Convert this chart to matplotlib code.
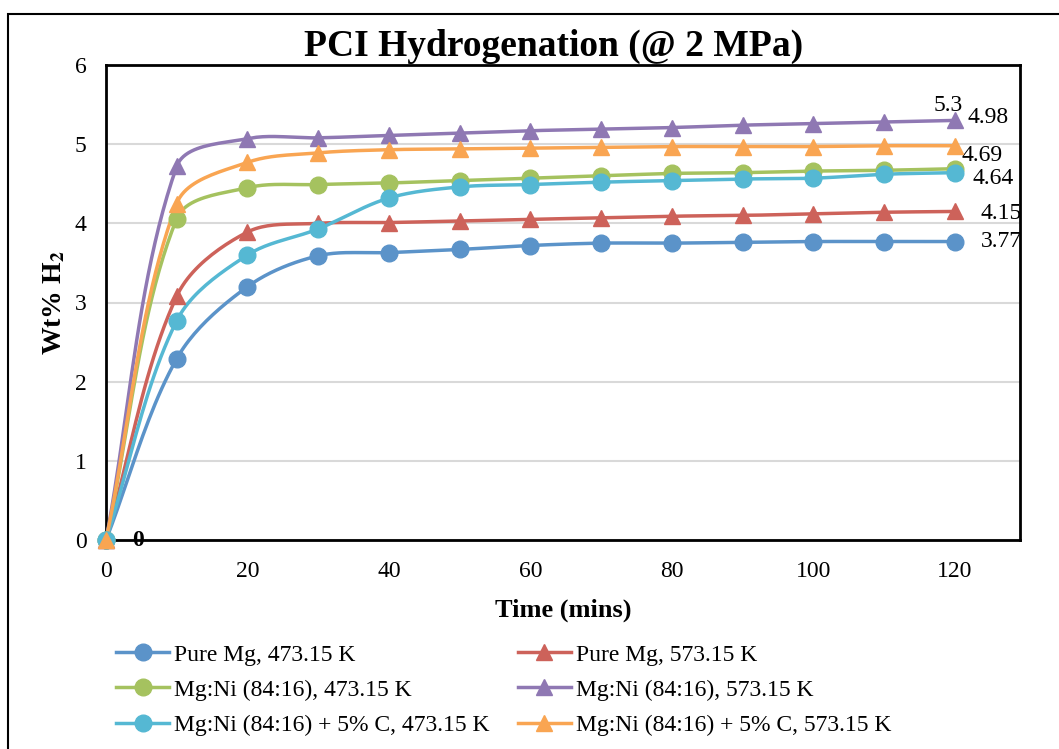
import matplotlib
matplotlib.use('Agg')
import matplotlib.pyplot as plt
import numpy as np
from matplotlib.lines import Line2D
from matplotlib.patches import Rectangle

plt.rcParams['font.family'] = ['Liberation Serif', 'DejaVu Serif']
plt.rcParams['mathtext.fontset'] = 'stix'

# data
time = [0, 10, 20, 30, 40, 50, 60, 70, 80, 90, 100, 110, 120]
pure_473 = [0, 2.29, 3.20, 3.59, 3.63, 3.67, 3.72, 3.75, 3.75, 3.76, 3.77, 3.77, 3.77]
pure_573 = [0, 3.08, 3.89, 4.00, 4.01, 4.03, 4.05, 4.07, 4.09, 4.10, 4.12, 4.14, 4.15]
mgni_473 = [0, 4.06, 4.45, 4.49, 4.51, 4.54, 4.57, 4.60, 4.63, 4.64, 4.66, 4.67, 4.69]
mgni_573 = [0, 4.72, 5.07, 5.08, 5.11, 5.14, 5.17, 5.19, 5.21, 5.24, 5.26, 5.28, 5.30]
mgnic_473 = [0, 2.77, 3.60, 3.93, 4.32, 4.46, 4.49, 4.52, 4.54, 4.56, 4.57, 4.62, 4.64]
mgnic_573 = [0, 4.25, 4.77, 4.89, 4.93, 4.94, 4.95, 4.96, 4.97, 4.97, 4.97, 4.98, 4.98]

labels = ['Pure Mg, 473.15 K', 'Pure Mg, 573.15 K',
          'Mg:Ni (84:16), 473.15 K', 'Mg:Ni (84:16), 573.15 K',
          'Mg:Ni (84:16) + 5% C, 473.15 K', 'Mg:Ni (84:16) + 5% C, 573.15 K']
series = [pure_473, pure_573, mgni_473, mgni_573, mgnic_473, mgnic_573]
colors = ['#5b93c9', '#cd625a', '#a5c25f', '#8f78b3', '#55b8d3', '#f9a552']
markers = ['o', '^', 'o', '^', 'o', '^']


def smooth(ax, x, y, n=24):
    # Excel-like smoothed line: Bezier through the points, built in screen space
    P = ax.transData.transform(np.column_stack([x, y]))
    m = len(P)
    d = np.linalg.norm(np.diff(P, axis=0), axis=1)
    t = np.linspace(0, 1, n)[:, None]
    out = []
    for i in range(m - 1):
        p0, p3 = P[i], P[i + 1]
        if i == 0:
            c1 = p0 + (p3 - p0) / 3
        else:
            c1 = p0 + (P[i + 1] - P[i - 1]) * d[i] / (d[i - 1] + d[i]) / 3
        if i == m - 2:
            c2 = p3 - (p3 - p0) / 3
        else:
            c2 = p3 - (P[i + 2] - P[i]) * d[i] / (d[i] + d[i + 1]) / 3
        b = (1 - t) ** 3 * p0 + 3 * (1 - t) ** 2 * t * c1 + 3 * (1 - t) * t ** 2 * c2 + t ** 3 * p3
        out.append(b)
    out = ax.transData.inverted().transform(np.vstack(out))
    return out[:, 0], out[:, 1]


fig = plt.figure(figsize=(10.59, 7.49), dpi=100)
ax = fig.add_axes([106 / 1059, 1 - 540 / 749, (1020 - 106) / 1059, (540 - 65) / 749])
ax.set_xlim(0, 129.2)
ax.set_ylim(0, 6)

handles = []
for y, c, m, lab in zip(series, colors, markers, labels):
    sx, sy = smooth(ax, time, y)
    ax.plot(sx, sy, color=c, lw=2.5, zorder=3, clip_on=False)
    ax.plot(time, y, linestyle='none', marker=m, ms=12, color=c, zorder=4, clip_on=False)
    handles.append(Line2D([0], [0], color=c, lw=2.5, marker=m, ms=12, label=lab))

ax.set_xticks(range(0, 121, 20))
ax.set_yticks(range(0, 7))
ax.tick_params(length=0, labelsize=17)
ax.tick_params(axis='x', pad=15)
ax.tick_params(axis='y', pad=14)
ax.grid(axis='y', color='#d9d9d9', lw=1.5)
ax.set_axisbelow(True)
for s in ax.spines.values():
    s.set_linewidth(2)
    s.set_color('black')

ax.set_xlabel('Time (mins)', fontsize=19, fontweight='bold', labelpad=12)
ax.set_ylabel('Wt% H$_\\mathbf{2}$', fontsize=20, fontweight='bold', labelpad=5)
fig.text(554 / 1059, 1 - 46 / 749, 'PCI Hydrogenation (@ 2 MPa)', ha='center', va='center',
         fontsize=27, fontweight='bold')

# end-point labels
ax.text(time[-1] - 0.9, mgni_573[-1] + 0.19, '5.3', fontsize=17, ha='center', va='center')
ax.text(time[-1] + 1.8, mgnic_573[-1] + 0.36, '4.98', fontsize=17, ha='left', va='center')
ax.text(time[-1] + 0.9, mgni_473[-1] + 0.17, '4.69', fontsize=17, ha='left', va='center')
ax.text(time[-1] + 2.5, mgnic_473[-1] - 0.07, '4.64', fontsize=17, ha='left', va='center')
ax.text(time[-1] + 3.6, pure_573[-1] - 0.02, '4.15', fontsize=17, ha='left', va='center')
ax.text(time[-1] + 3.6, pure_473[-1], '3.77', fontsize=17, ha='left', va='center')
ax.text(time[0] + 4.5, 0, '0', fontsize=17, fontweight='bold', ha='center', va='center')

# legend filled row by row like the original
order = [0, 2, 4, 1, 3, 5]
fig.legend(handles=[handles[i] for i in order], ncol=2, loc='upper left',
           bbox_to_anchor=(116 / 1059, 1 - 644 / 749), frameon=False, fontsize=17,
           handlelength=2.25, handletextpad=0.2, columnspacing=1.2,
           labelspacing=0.58, borderpad=0, borderaxespad=0)

# outer chart border
fig.patches.append(Rectangle((8 / 1059, -0.05), 1.2, 1 - 14 / 749 + 0.05,
                             transform=fig.transFigure, fill=False, edgecolor='black', lw=1.5))

fig.savefig('out.png', dpi=100)
